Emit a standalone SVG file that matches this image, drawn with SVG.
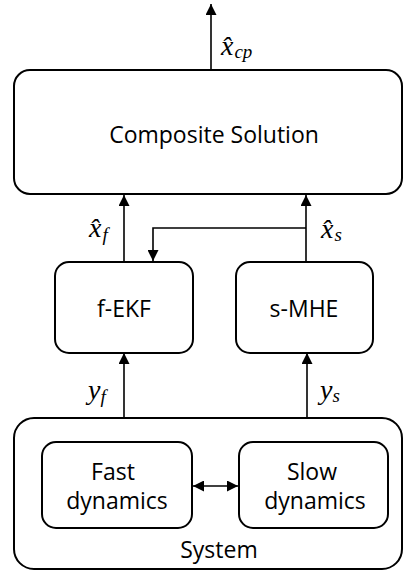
<svg xmlns="http://www.w3.org/2000/svg" width="404" height="571" viewBox="0 0 404 571">
<defs>
<marker id="ah" viewBox="0 0 10 10" refX="10" refY="5" markerWidth="11" markerHeight="11" markerUnits="userSpaceOnUse" orient="auto-start-reverse">
<path d="M0,0 L10,5 L0,10 z" fill="#000"/>
</marker>
<style>
.box{fill:#fff;stroke:#000;stroke-width:2}
.lbl{font-family:"Open Sans","Liberation Sans",sans-serif;font-size:23px;fill:#000;text-anchor:middle}
.m{font-family:"Liberation Serif","DejaVu Serif",serif;font-style:italic;fill:#000;font-size:28px}
.s{font-size:19px}
.c{stroke:#000;stroke-width:1.6;fill:none}
</style>
</defs>
<rect width="404" height="571" fill="#fff"/>
<g id="composite">
<rect class="box" x="14" y="70" width="388" height="124" rx="16"/>
<text class="lbl" x="214" y="143">Composite Solution</text>
</g>
<g id="fekf">
<rect class="box" x="55" y="262" width="138" height="91" rx="14"/>
<text class="lbl" x="124" y="317">f-EKF</text>
</g>
<g id="smhe">
<rect class="box" x="236" y="262" width="137" height="91" rx="14"/>
<text class="lbl" x="304" y="317">s-MHE</text>
</g>
<g id="system">
<rect class="box" x="14" y="418" width="388" height="151" rx="20"/>
<text class="lbl" x="219" y="558">System</text>
</g>
<g id="fast">
<rect class="box" x="42" y="442" width="150" height="86" rx="14"/>
<text class="lbl" x="113" y="480">Fast</text>
<text class="lbl" x="117" y="509">dynamics</text>
</g>
<g id="slow">
<rect class="box" x="239" y="442" width="149" height="86" rx="14"/>
<text class="lbl" x="312" y="480">Slow</text>
<text class="lbl" x="315" y="509">dynamics</text>
</g>
<g id="connectors">
<line class="c" x1="211" y1="70" x2="211" y2="4" marker-end="url(#ah)"/>
<line class="c" x1="124" y1="262" x2="124" y2="195" marker-end="url(#ah)"/>
<line class="c" x1="306" y1="262" x2="306" y2="195" marker-end="url(#ah)"/>
<polyline class="c" points="306,228 153,228 153,261" marker-end="url(#ah)"/>
<line class="c" x1="124" y1="418" x2="124" y2="353" marker-end="url(#ah)"/>
<line class="c" x1="307" y1="418" x2="307" y2="353" marker-end="url(#ah)"/>
<line class="c" x1="193" y1="486" x2="238" y2="486" marker-start="url(#ah)" marker-end="url(#ah)"/>
</g>
<g id="labels">
<text class="m" x="221" y="55">x&#770;<tspan class="s" dx="1" dy="3">cp</tspan></text>
<text class="m" x="89" y="237">x&#770;<tspan class="s" dx="1" dy="4">f</tspan></text>
<text class="m" x="321" y="238">x&#770;<tspan class="s" dx="1" dy="3">s</tspan></text>
<text class="m" x="88" y="399">y<tspan class="s" dx="0" dy="4">f</tspan></text>
<text class="m" x="320" y="399">y<tspan class="s" dx="0" dy="3">s</tspan></text>
</g>
</svg>
